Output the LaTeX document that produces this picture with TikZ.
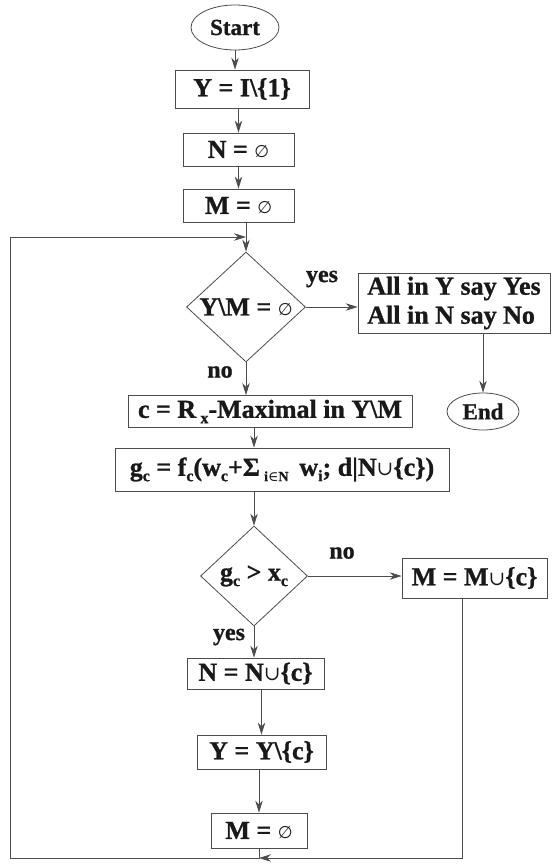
\documentclass[tikz,border=0pt]{standalone}
\usepackage{fontspec}
\setmainfont{Liberation Serif}[BoldFeatures={FakeBold=1}]
\newfontfamily\symfam{DejaVu Serif}
\newfontfamily\emptyfam{DejaVu Sans}
\usetikzlibrary{shapes.geometric,arrows.meta}
\newcommand\myempty{{\emptyfam\fontsize{17}{17}\selectfont\mdseries ∅}}
\newcommand\mycup{{\symfam\fontsize{20}{20}\selectfont\mdseries ∪}}
\newcommand\myin{{\symfam\mdseries ∈}}
\newcommand\mysub[1]{\raisebox{-0.45ex}{\fontsize{16}{16}\selectfont #1}}
\newcommand\smsub[1]{\raisebox{-0.45ex}{\fontsize{14}{14}\selectfont #1}}
\definecolor{lc}{gray}{0.3}
\definecolor{tc}{gray}{0.1}
\begin{document}
\begin{tikzpicture}[x=1pt,y=-1pt,
  every node/.style={font=\fontsize{26}{29}\selectfont\bfseries, text=tc},
  box/.style={draw=lc, line width=0.8pt, rectangle, inner sep=0pt},
  term/.style={draw=lc, line width=0.8pt, ellipse, inner sep=0pt, font=\fontsize{23}{26}\selectfont\bfseries},
  decide/.style={draw=lc, line width=0.8pt, diamond, inner sep=0pt, aspect=1.08},
  arr/.style={draw=lc, line width=0.8pt, -{Stealth[length=12pt,width=7.5pt]}},
  lbl/.style={inner sep=0pt, font=\fontsize{24}{28}\selectfont\bfseries}]
\useasboundingbox (0,0) rectangle (553,864);
\fill[white] (0,0) rectangle (553,864);

\node[term, minimum width=88pt, minimum height=45pt] (start) at (235,27.5) {Start};
\node[box, minimum width=134pt, minimum height=38pt] (y1) at (242,89) {Y = I\textbackslash\{1\}};
\node[box, minimum width=111pt, minimum height=33pt] (n1) at (238.5,149.5) {N = \myempty};
\node[box, minimum width=111pt, minimum height=33pt] (m1) at (238.5,205.5) {M = \myempty};
\node[decide, minimum width=119pt, minimum height=110pt] (d1) at (246,307) {Y\textbackslash M = \myempty};
\node[box, minimum width=192pt, minimum height=60pt, align=left] (all) at (454,303) {All in Y say Yes\\All in N say No};
\node[term, minimum width=72pt, minimum height=37pt] (end) at (483,411.5) {End};
\node[box, minimum width=284pt, minimum height=32pt] (c) at (270,411.5) {c = R\,\mysub{x}-Maximal in Y\textbackslash M};
\node[box, minimum width=334pt, minimum height=43pt] (g) at (282,469.5) {g\mysub{c} = f\mysub{c}(w\mysub{c}+Σ\,\smsub{i\myin N}\, w\mysub{i}; d|N\mycup\{c\})};
\node[decide, minimum width=107pt, minimum height=100pt] (d2) at (254,576) {g\mysub{c} > x\mysub{c}};
\node[box, minimum width=145pt, minimum height=40pt] (mu) at (474.5,578) {M = M\mycup\{c\}};
\node[box, minimum width=137pt, minimum height=31pt] (n2) at (255.5,673.5) {N = N\mycup\{c\}};
\node[box, minimum width=129pt, minimum height=34pt] (y2) at (261.5,752) {Y = Y\textbackslash\{c\}};
\node[box, minimum width=96pt, minimum height=35pt] (m2) at (259,830.5) {M = \myempty};

\node[lbl] (yes1) at (322,279) {yes};
\node[lbl] (no1) at (220,372) {no};
\node[lbl] (no2) at (342,553) {no};
\node[lbl] (yes2) at (229,637) {yes};

\coordinate (lt) at (10,237);
\coordinate (lb) at (10,858);
\coordinate (rb) at (462,858);
\coordinate (jn) at (259,858);

\draw[arr] (start.south) -- (start.south |- y1.north);
\draw[arr] (n1.north |- y1.south) -- (n1.north);
\draw[arr] (m1.north |- n1.south) -- (m1.north);
\draw[arr] (d1.north |- m1.south) -- (d1.north);
\draw[arr] (d1.east) -- (d1.east -| all.west);
\draw[arr] (end.north |- all.south) -- (end.north);
\draw[arr] (d1.south) -- (d1.south |- c.north);
\draw[arr] (d2.north |- c.south) -- (d2.north |- g.north);
\draw[arr] (d2.north |- g.south) -- (d2.north);
\draw[arr] (d2.east) -- (d2.east -| mu.west);
\draw[arr] (d2.south) -- (d2.south |- n2.north);
\draw[arr] (y2.north |- n2.south) -- (y2.north);
\draw[arr] (m2.north |- y2.south) -- (m2.north);
\draw[arr] (mu.south -| rb) -- (rb) -- (jn);
\draw[arr] (m2.south) -- (jn) -- (lb) -- (lt) -- (d1.north |- lt);
\end{tikzpicture}
\end{document}
